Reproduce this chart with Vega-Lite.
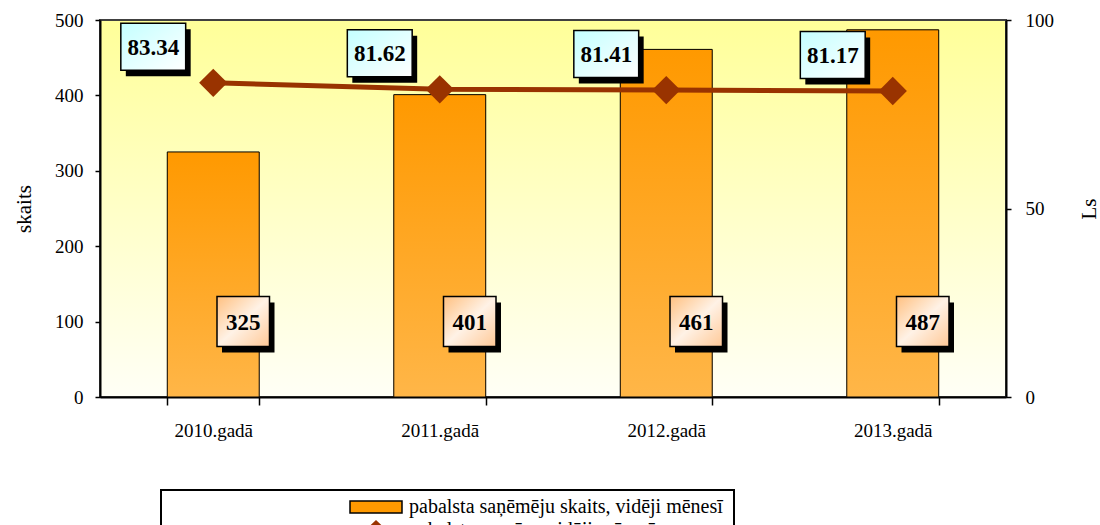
{
  "$schema": "https://vega.github.io/schema/vega-lite/v6.json",
  "width": 906,
  "height": 377,
  "autosize": {"type": "none"},
  "padding": {"left": 100, "top": 20, "right": 94, "bottom": 128},
  "background": "white",
  "view": {
    "fill": {"gradient": "linear", "x1": 0, "y1": 0, "x2": 0, "y2": 1, "stops": [{"offset": 0, "color": "#FFFF99"}, {"offset": 1, "color": "#FFFFF6"}]},
    "stroke": "#404040",
    "strokeWidth": 2
  },
  "config": {
    "font": "Liberation Serif",
    "axis": {"labelColor": "black", "titleColor": "black", "tickColor": "black", "domainColor": "black", "domainWidth": 2, "tickWidth": 1.5, "labelFont": "Liberation Serif", "titleFont": "Liberation Serif", "titleFontWeight": "normal", "grid": false}
  },
  "data": {
    "values": [
      {"year": "2010.gadā", "skaits": 325, "Ls": 83.34},
      {"year": "2011.gadā", "skaits": 401, "Ls": 81.62},
      {"year": "2012.gadā", "skaits": 461, "Ls": 81.41},
      {"year": "2013.gadā", "skaits": 487, "Ls": 81.17}
    ]
  },
  "encoding": {
    "x": {
      "field": "year", "type": "nominal", "sort": null,
      "scale": {"paddingInner": 0.594, "paddingOuter": 0.297},
      "axis": {"title": null, "labelAngle": 0, "labelFontSize": 19, "labelPadding": 16, "tickBand": "extent", "tickSize": 8}
    }
  },
  "layer": [
    {
      "layer": [
        {
          "mark": {"type": "bar"},
          "encoding": {
            "y": {"field": "skaits", "type": "quantitative", "scale": {"domain": [0, 500]},
              "axis": {"orient": "left", "title": "skaits", "values": [0, 100, 200, 300, 400, 500], "titleFontSize": 21, "titlePadding": 20, "labelFontSize": 19, "labelPadding": 12, "tickSize": 5}},
            "color": {
              "datum": "pabalsta  saņēmēju skaits, vidēji mēnesī",
              "scale": {"domain": ["pabalsta  saņēmēju skaits, vidēji mēnesī", "pabalsta apmērs, vidēji mēnesī"], "range": ["#FF9900", "#993300"]},
              "legend": {
                "title": null,
                "orient": "none",
                "legendX": 61,
                "legendY": 470,
                "padding": 6,
                "fillColor": "white",
                "strokeColor": "black",
                "symbolSize": 400,
                "symbolOffset": 198,
                "labelOffset": 22,
                "labelFont": "Liberation Serif",
                "labelFontSize": 20,
                "labelColor": "black",
                "labelLimit": 1000,
                "rowPadding": 2,
                "labelExpr": "datum.label + '\u2003\u2003\u2003\u2003\u2003\u2003\u2003\u2003\u2003\u2003\u2003'",
                "encode": {
                  "legend": {"update": {"strokeWidth": {"value": 2}}},
                  "symbols": {
                    "update": {
                      "shape": {"signal": "datum.index === 0 ? 'M-2.6,-0.6H2.6V0.6H-2.6Z' : 'M-2.6,-0.2H-0.85L0,-1L0.85,-0.2H2.6V0.2H0.85L0,1L-0.85,0.2H-2.6Z'"},
                      "stroke": {"signal": "datum.index === 0 ? 'black' : null"},
                      "strokeWidth": {"value": 1.5},
                      "opacity": {"value": 1}
                    }
                  }
                }
              }
            }
          }
        },
        {
          "mark": {"type": "bar", "stroke": "black", "strokeWidth": 1,
            "fill": {"gradient": "linear", "x1": 0, "y1": 0, "x2": 0, "y2": 1, "stops": [{"offset": 0, "color": "#FF9900"}, {"offset": 1, "color": "#FFB648"}]}},
          "encoding": {
            "y": {"field": "skaits", "type": "quantitative", "scale": {"domain": [0, 500]}}
          }
        },
        {
          "mark": {"type": "point", "filled": true, "opacity": 1, "color": "black", "shape": "M-1.05,-1H1.05V1H-1.05Z", "size": 2500, "xOffset": 35, "yOffset": 6},
          "encoding": {"y": {"datum": 100, "type": "quantitative"}}
        },
        {
          "mark": {"type": "point", "filled": true, "opacity": 1, "shape": "M-1.05,-1H1.05V1H-1.05Z", "size": 2500, "xOffset": 30, "stroke": "black", "strokeWidth": 1.5,
            "fill": {"gradient": "linear", "x1": 0, "y1": 0, "x2": 1, "y2": 1, "stops": [{"offset": 0, "color": "#FFC080"}, {"offset": 0.5, "color": "#FFF2E6"}, {"offset": 1, "color": "#FFC896"}]}},
          "encoding": {"y": {"datum": 100, "type": "quantitative"}}
        },
        {
          "mark": {"type": "text", "font": "Liberation Serif", "fontWeight": "bold", "fontSize": 23, "color": "black", "xOffset": 30, "yOffset": 1, "baseline": "middle", "align": "center"},
          "encoding": {"y": {"datum": 100, "type": "quantitative"}, "text": {"field": "skaits", "type": "quantitative"}}
        }
      ]
    },
    {
      "layer": [
        {
          "mark": {"type": "line", "color": "#993300", "strokeWidth": 5},
          "encoding": {
            "y": {"field": "Ls", "type": "quantitative", "scale": {"domain": [0, 100]},
              "axis": {"orient": "right", "title": "Ls", "values": [0, 50, 100], "titleAngle": 270, "titleFontSize": 21, "titlePadding": 46, "labelFontSize": 19, "labelPadding": 14, "tickSize": 5}}
          }
        },
        {
          "mark": {"type": "point", "shape": "diamond", "filled": true, "opacity": 1, "color": "#993300", "size": 800},
          "encoding": {"y": {"field": "Ls", "type": "quantitative"}}
        },
        {
          "mark": {"type": "point", "filled": true, "opacity": 1, "color": "black", "shape": "M-1.38,-1H1.38V1H-1.38Z", "size": 2209, "xOffset": -55, "yOffset": -30},
          "encoding": {"y": {"field": "Ls", "type": "quantitative"}}
        },
        {
          "mark": {"type": "point", "filled": true, "opacity": 1, "shape": "M-1.38,-1H1.38V1H-1.38Z", "size": 2209, "xOffset": -60, "yOffset": -36, "stroke": "black", "strokeWidth": 1.5,
            "fill": {"gradient": "linear", "x1": 0, "y1": 0, "x2": 1, "y2": 1, "stops": [{"offset": 0, "color": "#C4FFFF"}, {"offset": 1, "color": "#FFFFFF"}]}},
          "encoding": {"y": {"field": "Ls", "type": "quantitative"}}
        },
        {
          "mark": {"type": "text", "font": "Liberation Serif", "fontWeight": "bold", "fontSize": 23, "color": "black", "xOffset": -60, "yOffset": -35, "baseline": "middle", "align": "center"},
          "encoding": {"y": {"field": "Ls", "type": "quantitative"}, "text": {"field": "Ls", "type": "quantitative", "format": ".2f"}}
        }
      ]
    }
  ],
  "resolve": {"scale": {"y": "independent"}, "axis": {"y": "independent"}}
}
